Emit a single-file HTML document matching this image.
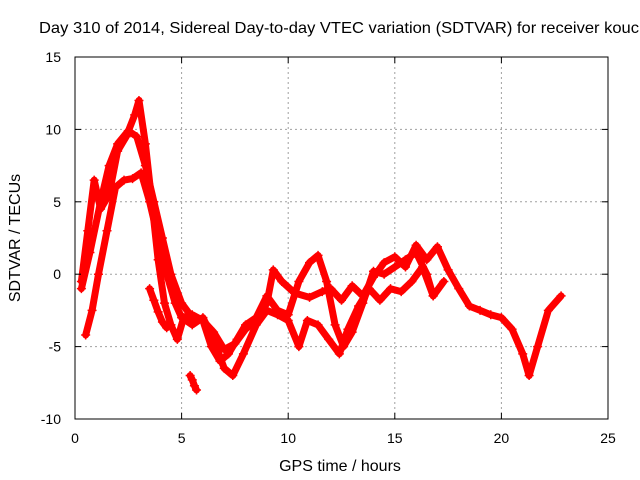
<!DOCTYPE html>
<html><head><meta charset="utf-8"><style>
html,body{margin:0;padding:0;background:#fff;}
svg{display:block;font-family:"Liberation Sans",sans-serif;}
</style></head><body>
<svg id="chart" width="640" height="480">
<text x="39" y="33" font-size="16" textLength="600" lengthAdjust="spacingAndGlyphs" fill="#000">Day 310 of 2014, Sidereal Day-to-day VTEC variation (SDTVAR) for receiver kouc</text>
<g id="grid"></g>
<g id="series"></g>
<rect x="75" y="57" width="533" height="362" fill="none" stroke="#000" stroke-width="1"/>
<g id="ticks"></g>
<text x="340" y="471" font-size="16" text-anchor="middle">GPS time / hours</text>
<text transform="translate(20,238) rotate(-90)" font-size="16" text-anchor="middle">SDTVAR / TECUs</text>
</svg>
<script>
const xTicks=[0,5,10,15,20,25];
const yTicks=[-10,-5,0,5,10,15];
const seriesAH=[0.3,0.7,1.2,1.6,2.0,2.5,2.9,3.3,3.7,4.1,4.5,5.0,5.5,6.0,6.5,7.0,7.5,8.0,8.5,9.0,9.3,9.7,10.3,11.0,11.6,12.0,12.5,13.0,13.5,14.0,14.5,15.0,15.5,16.0,16.5,17.0,17.5,18.0,18.5,19.0,19.5,20.0,20.5,21.0,21.3,21.7,22.2,22.8];
const seriesAV=[-1.0,1.5,5.0,7.5,9.0,9.9,9.5,7.5,5.0,2.5,0.0,-2.0,-3.0,-3.2,-4.0,-5.2,-4.8,-3.8,-3.2,-2.0,0.3,-0.5,-1.3,-1.6,-1.2,-1.0,-1.8,-0.8,-1.5,-0.2,0.8,1.2,0.5,2.0,1.0,1.9,0.3,-1.0,-2.2,-2.5,-2.8,-3.0,-3.8,-5.5,-7.0,-5.0,-2.5,-1.5];
const seriesBH=[0.5,0.8,1.1,1.5,1.9,2.3,2.7,3.1,3.5,3.9,4.3,4.7,5.0,5.5,6.0,6.5,7.0,7.4,7.9,8.5,9.0,9.5,10.0,10.5,10.9,11.4,11.9,12.4,12.8,13.3,13.8,14.3,14.8,15.3,15.8,16.3,16.8,17.3];
const seriesBV=[-4.2,-2.5,0.0,3.0,6.0,6.5,6.6,7.0,5.0,2.5,0.0,-2.0,-3.0,-3.5,-3.0,-4.5,-6.5,-7.0,-5.5,-3.5,-2.5,-2.8,-3.2,-5.0,-3.2,-3.5,-4.5,-5.5,-3.8,-2.2,-1.0,-1.8,-1.0,-1.2,-0.5,0.5,-1.5,-0.5];
const seriesCH=[0.3,0.6,0.9,1.2,1.6,2.0,2.4,2.8,3.0,3.3,3.6,3.9,4.2,4.5,4.8,5.1,5.5,6.0,6.4,6.8,7.2,7.6,8.0,8.5,9.0,9.5,10.0,10.5,11.0,11.4,11.8,12.2,12.6,13.0,13.5,14.0,14.5,15.0,15.5,16.0,16.5,16.8];
const seriesCV=[-0.5,3.0,6.5,4.5,5.5,8.5,9.5,11.0,12.0,9.0,5.0,1.0,-2.0,-3.5,-4.5,-3.0,-2.8,-3.2,-5.0,-6.0,-5.5,-4.5,-3.5,-3.0,-1.5,-2.5,-2.8,-0.5,0.8,1.3,-0.5,-3.5,-5.0,-4.0,-2.0,0.2,0.0,0.5,1.0,1.5,0.0,-1.5];
const seriesDH=[3.5,3.7,3.9,4.1,4.3];
const seriesDV=[-1.0,-1.8,-2.6,-3.3,-3.7];
const seriesEH=[5.4,5.5,5.6,5.7];
const seriesEV=[-7.0,-7.3,-7.7,-8.0];
const X0=75,X1=608,Y0=419,Y1=57;
function xs(h){return X0+(h-0)/(25-0)*(X1-X0);}
function ys(v){return Y0-(v+10)/(15+10)*(Y0-Y1);}
const NS="http://www.w3.org/2000/svg";
const grid=document.getElementById('grid'),tk=document.getElementById('ticks'),ser=document.getElementById('series');
function mk(tag,attrs,parent){const e=document.createElementNS(NS,tag);for(const k in attrs)e.setAttribute(k,attrs[k]);parent.appendChild(e);return e;}
xTicks.forEach(t=>{const x=xs(t);
 if(t>0&&t<25){const g=mk('line',{x1:x,x2:x,y1:Y1,y2:Y0,stroke:'#a0a0a0','stroke-dasharray':'2,3'},grid);
 
 }
 mk('line',{x1:x,x2:x,y1:Y0,y2:Y0-6,stroke:'#000'},tk);mk('line',{x1:x,x2:x,y1:Y1,y2:Y1+6,stroke:'#000'},tk);
 const l=mk('text',{x:x,y:Y0+24,'font-size':14,'text-anchor':'middle'},tk);l.textContent=t;
 
 });
yTicks.forEach(t=>{const y=ys(t);
 if(t>-10&&t<15){const g=mk('line',{x1:X0,x2:X1,y1:y,y2:y,stroke:'#a0a0a0','stroke-dasharray':'2,3'},grid);
 
 }
 mk('line',{x1:X0,x2:X0+6,y1:y,y2:y,stroke:'#000'},tk);mk('line',{x1:X1,x2:X1-6,y1:y,y2:y,stroke:'#000'},tk);
 const l=mk('text',{x:X0-14,y:y+5,'font-size':14,'text-anchor':'end'},tk);l.textContent=t;
 
 });
function draw(H,V,name){
 const pts=H.map((h,i)=>xs(h).toFixed(1)+','+ys(V[i]).toFixed(1)).join(' ');
 const p=mk('polyline',{points:pts,fill:'none',stroke:'#ff0000','stroke-width':7,'stroke-linejoin':'round','stroke-linecap':'round'},ser);
 
 
 H.forEach((h,i)=>{const x=xs(h),y=ys(V[i]);
  const m=mk('path',{d:`M${x-4.5},${y}H${x+4.5}M${x},${y-4.5}V${y+4.5}`,stroke:'#ff0000','stroke-width':1.5},ser);
  
  });
}
draw(seriesAH,seriesAV,'series-a');
draw(seriesBH,seriesBV,'series-b');
draw(seriesCH,seriesCV,'series-c');
draw(seriesDH,seriesDV,'series-d');
draw(seriesEH,seriesEV,'series-e');
</script>
</body></html>
